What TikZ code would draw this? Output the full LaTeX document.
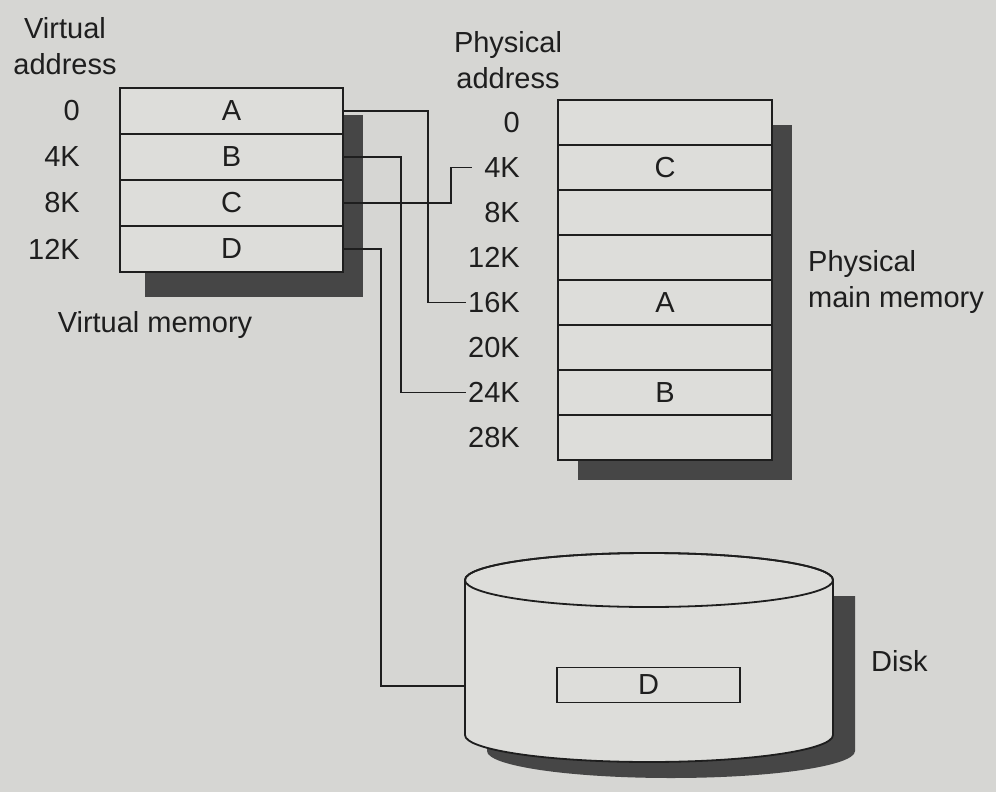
\documentclass[tikz,border=0pt]{standalone}
\usepackage{fontspec}
\setmainfont{Liberation Sans}
\definecolor{paper}{RGB}{214,214,211}
\definecolor{cell}{RGB}{221,221,218}
\definecolor{shade}{RGB}{70,70,70}
\definecolor{ink}{RGB}{30,30,30}

\begin{document}
\begin{tikzpicture}[x=1pt, y=1pt,
    every node/.style={font=\fontsize{29}{36}\selectfont, text=ink, inner sep=2pt},
    vcell/.style={draw=ink, line width=1.8pt, fill=cell, minimum width=223pt, minimum height=46pt, inner sep=0pt},
    pcell/.style={draw=ink, line width=1.8pt, fill=cell, minimum width=214pt, minimum height=45pt, inner sep=0pt},
    addr/.style={anchor=east},
    link/.style={draw=ink, line width=1.7pt},
    drop/.style={fill=shade}]
    \fill[paper] (0,0) rectangle (996,-792);

    \fill[drop] (145,-115) rectangle (363,-297);
    \foreach \page/\addr [count=\i] in {A/0, B/4K, C/8K, D/12K} {
        \node[vcell] (v\i) at (231.5, {-111-46*(\i-1)}) {\page};
        \node[addr] (va\i) at (82, {-111-46*(\i-1)}) {\addr};
    }

    \fill[drop] (578,-125) rectangle (792,-480);
    \foreach \page/\addr [count=\i] in {/0, C/4K, /8K, /12K, A/16K, /20K, B/24K, /28K} {
        \node[pcell] (p\i) at (665, {-122.5-45*(\i-1)}) {\page};
        \node[addr] (pa\i) at (522, {-122.5-45*(\i-1)}) {\addr};
    }

    \fill[drop] (487,-596) -- (487,-751) arc[start angle=180, end angle=360, x radius=184, y radius=27] -- (855,-596) -- cycle;
    \filldraw[draw=ink, fill=cell, line width=1.8pt] (465,-580) -- (465,-735) arc[start angle=180, end angle=360, x radius=184, y radius=27] -- (833,-580) arc[start angle=0, end angle=180, x radius=184, y radius=27] -- cycle;
    \draw[ink, line width=1.8pt] (649,-580) ellipse[x radius=184, y radius=27];
    \node[draw=ink, line width=1.8pt, fill=cell, minimum width=183pt, minimum height=35pt, inner sep=0pt] (dslot) at (648.5,-685) {D};
    \coordinate (disk) at (465,-686);

    \draw[link] (v1.east) -- ++(84,0) |- (pa5.west);
    \draw[link] (v2.east) -- ++(57,0) |- (pa7.west);
    \draw[link] (v3.east) -- ++(107,0) |- ([xshift=-10pt]pa2.west);
    \draw[link] (v4.east) -- ++(37,0) |- (disk);

    \node[align=center] (vtitle) at (65,-46) {Virtual\\address};
    \node[align=center] (ptitle) at (508,-60) {Physical\\address};
    \node (vname) at (155,-325) {Virtual memory};
    \node[align=left, anchor=west] (pname) at (806,-282) {Physical\\main memory};
    \node[anchor=west] (dname) at (869,-661) {Disk};
\end{tikzpicture}
\end{document}
